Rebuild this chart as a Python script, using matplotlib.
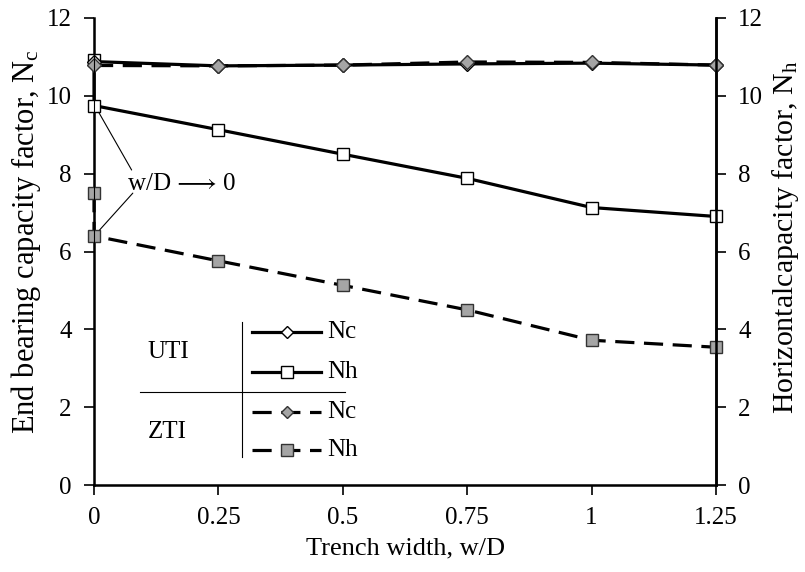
import matplotlib.pyplot as plt
from matplotlib.lines import Line2D

plt.rcParams['font.family'] = ['Liberation Serif', 'TeX Gyre Termes', 'STIXGeneral', 'DejaVu Serif']
plt.rcParams['mathtext.fontset'] = 'custom'
plt.rcParams['mathtext.rm'] = 'TeX Gyre Termes'

# data
w_nc = [0, 0.25, 0.5, 0.75, 1.0, 1.25]
w_nh = [0, 0, 0.25, 0.5, 0.75, 1.0, 1.25]   # first x=0 point is the no-trench case
uti_nc = [10.88, 10.77, 10.79, 10.82, 10.84, 10.79]
zti_nc = [10.78, 10.77, 10.79, 10.87, 10.86, 10.79]
uti_nh = [10.92, 9.75, 9.13, 8.5, 7.88, 7.13, 6.9]
zti_nh = [7.5, 6.4, 5.76, 5.13, 4.5, 3.72, 3.54]

xticks = [0, 0.25, 0.5, 0.75, 1, 1.25]
xticklabels = ['0', '0.25', '0.5', '0.75', '1', '1.25']

gray = '#a5a5a5'
lw = 2.3
dash = (6, 3)
fs = 18

fig = plt.figure(figsize=(8.05, 5.72), dpi=100)
ax1 = fig.add_axes([94/805, 1-485/572, 622/805, 467/572])

solid_nc = dict(color='k', lw=lw, marker='D', ms=7, mfc='white', mec='k', mew=1)
solid_nh = dict(color='k', lw=lw, marker='s', ms=9, mfc='white', mec='k', mew=1)
dash_nc = dict(color='k', lw=lw, dashes=dash, marker='D', ms=7, mfc=gray, mec='#333333', mew=1)
dash_nh = dict(color='k', lw=lw, dashes=dash, marker='s', ms=9, mfc=gray, mec='#333333', mew=1)

ax1.plot(w_nh, uti_nh, clip_on=False, zorder=3, **solid_nh)
ax1.plot(w_nh, zti_nh, clip_on=False, zorder=3, **dash_nh)
ax1.plot(w_nc, uti_nc, clip_on=False, zorder=4, **solid_nc)
ax1.plot(w_nc, zti_nc, clip_on=False, zorder=5, **dash_nc)

ax1.set_xlim(0, 1.25)
ax1.set_ylim(0, 12)
ax1.set_xticks(xticks)
ax1.set_xticklabels(xticklabels)
ax1.set_yticks(range(0, 13, 2))
ax1.tick_params(direction='out', length=7, width=1.2, labelsize=fs, pad=9)
ax1.spines['top'].set_visible(False)
for s in ['left', 'bottom', 'right']:
    ax1.spines[s].set_linewidth(1.8)
ax1.set_xlabel('Trench width, w/D', fontsize=19, labelpad=6)
ax1.set_ylabel(r'End bearing capacity factor, $\mathregular{N_c}$', fontsize=22)
ax1.yaxis.set_label_coords(-0.082, 0.52)

ax2 = ax1.twinx()
ax2.set_ylim(0, 12)
ax2.set_yticks(range(0, 13, 2))
ax2.tick_params(direction='out', length=7, width=1.2, labelsize=fs, pad=9)
ax2.spines['top'].set_visible(False)
ax2.spines['right'].set_linewidth(1.8)
ax2.set_ylabel(r'Horizontalcapacity factor, $\mathregular{N_h}$', fontsize=21.5)
ax2.yaxis.set_label_coords(1.087, 0.53)

# annotation
ax1.annotate('w/D \u27f6 0', xy=(0.004, 9.7), xytext=(0.068, 7.74), fontsize=fs,
             va='center', ha='left',
             arrowprops=dict(arrowstyle='-', lw=0.8, color='k', shrinkA=0, shrinkB=4,
                             relpos=(0.05, 1.0)))
ax1.annotate('', xy=(0.004, 6.45), xytext=(0.078, 7.5),
             arrowprops=dict(arrowstyle='-', lw=0.8, color='k', shrinkA=0, shrinkB=4))

# table-style legend
T = ax1.transAxes
rows = [(0.328, solid_nc, 'Nc'), (0.242, solid_nh, 'Nh'),
        (0.156, dash_nc, 'Nc'), (0.075, dash_nh, 'Nh')]
marker_keys = ('marker', 'ms', 'mfc', 'mec', 'mew')
for y, style, lab in rows:
    line_style = {k: v for k, v in style.items() if k not in marker_keys}
    ax1.add_line(Line2D([0.254, 0.365], [y, y], transform=T, **line_style))
    ax1.add_line(Line2D([0.31], [y], transform=T, ls='none', marker=style['marker'],
                        ms=style['ms'] - 1, mfc=style['mfc'], mec=style['mec'], mew=1, zorder=6))
    ax1.text(0.375, y, lab, transform=T, fontsize=fs, va='center', ha='left')
ax1.add_line(Line2D([0.238, 0.238], [0.06, 0.349], transform=T, color='k', lw=0.8))
ax1.add_line(Line2D([0.074, 0.404], [0.199, 0.199], transform=T, color='k', lw=0.8))
ax1.text(0.119, 0.285, 'UTI', transform=T, fontsize=fs, va='center', ha='center')
ax1.text(0.118, 0.113, 'ZTI', transform=T, fontsize=fs, va='center', ha='center')

fig.savefig('out.png', dpi=100)
